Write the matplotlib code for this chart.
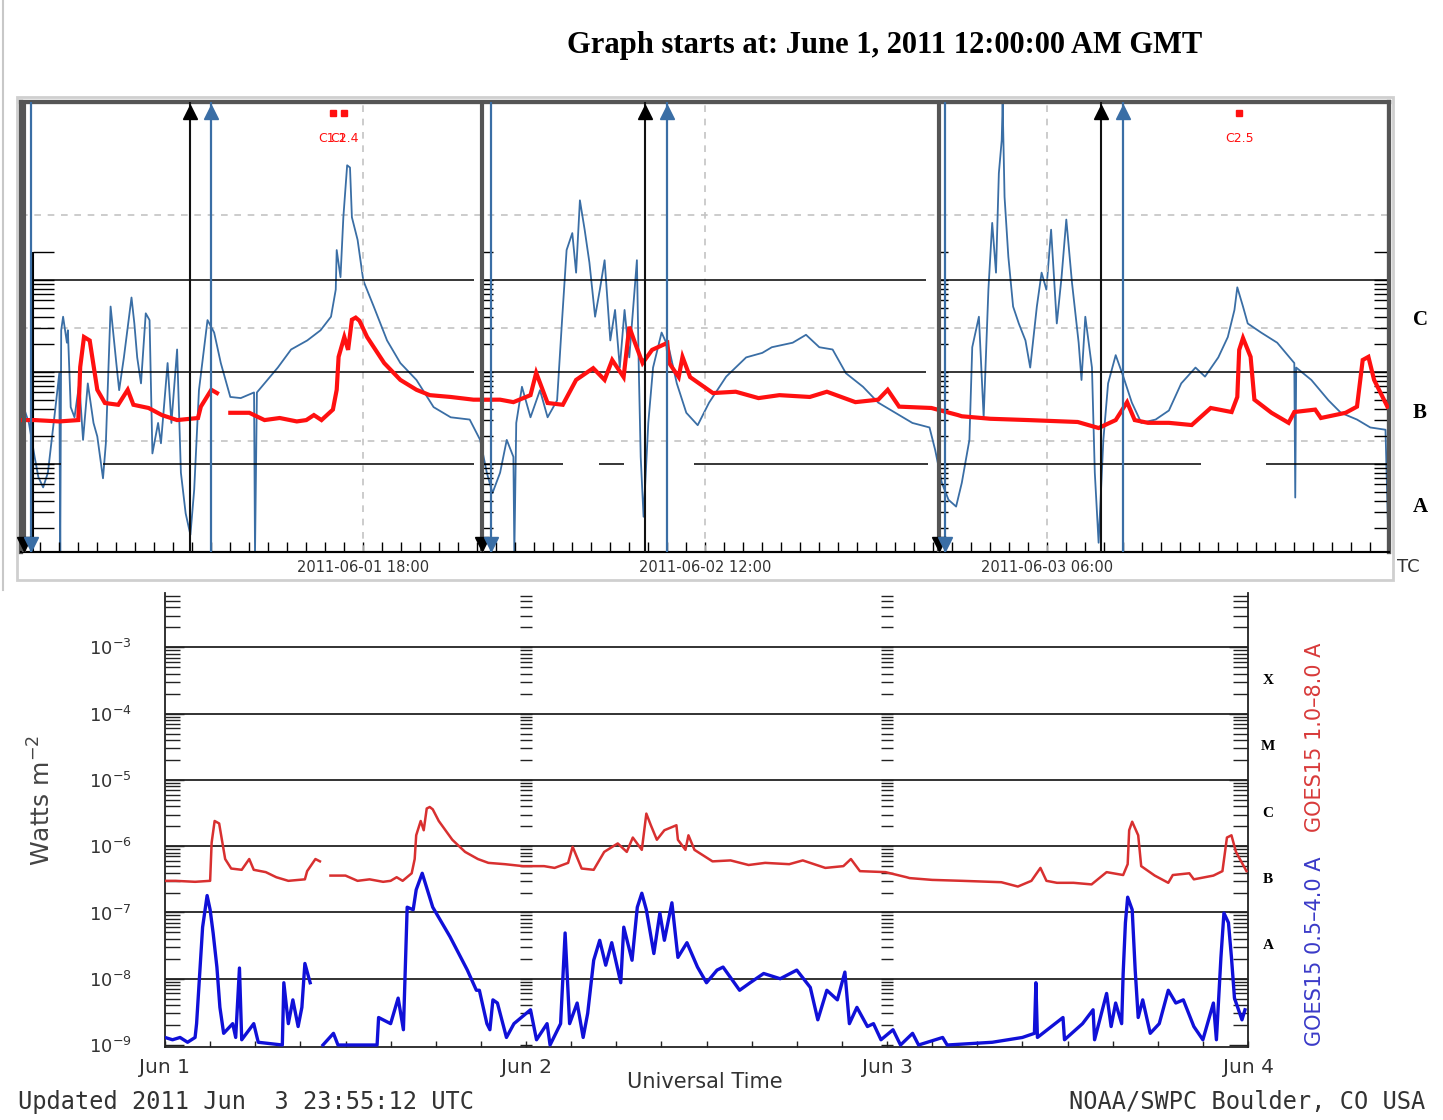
import numpy as np
import matplotlib
matplotlib.use("Agg")
import matplotlib.pyplot as plt
from matplotlib.lines import Line2D
from matplotlib.patches import Rectangle
from matplotlib.ticker import FixedLocator, NullLocator, NullFormatter, LogFormatterMathtext

# ---------------- data (hours after 2011-06-01 00:00 UT) ----------------
# GOES15 1.0-8.0 A (W m-2); nan = data gap
red_t = [0.0, 0.7, 2.0, 3.0, 3.1, 3.3, 3.6, 4.0, 4.4, 5.1, 5.6, 5.9, 6.7, 7.4, 8.2, 9.3, 9.45,
         10.0, 10.3, 10.35, 10.9, 11.0, 12.0, 12.8, 13.6, 14.5, 15.0, 15.4, 15.8, 16.4, 16.6,
         16.7, 17.0, 17.2, 17.4, 17.6, 17.8, 18.2, 19.1, 19.95, 20.8, 21.5, 22.6, 23.8, 25.2,
         25.9, 26.8, 27.1, 27.7, 28.5, 29.2, 30.1, 30.7, 31.1, 31.7, 32.0, 32.3, 32.7, 33.2,
         34.0, 34.1, 34.6, 34.8, 35.2, 36.4, 37.6, 38.8, 39.9, 41.5, 42.4, 43.9, 45.1, 45.6,
         46.2, 47.9, 49.3, 49.5, 51.0, 53.0, 55.6, 56.7, 57.6, 58.2, 58.6, 59.3, 60.4, 61.6,
         62.6, 63.7, 64.0, 64.1, 64.3, 64.7, 64.9, 65.8, 66.7, 67.0, 68.1, 68.4, 69.7, 70.3,
         70.6, 70.9, 71.2, 71.9]
red_flux = [3.0e-7, 3.0e-7, 2.9e-7, 3.0e-7, 1.13e-6, 2.4e-6, 2.2e-6, 6.4e-7, 4.6e-7, 4.4e-7,
            6.4e-7, 4.4e-7, 4.06e-7, 3.4e-7, 3.0e-7, 3.16e-7, 4.2e-7, 6.4e-7, 5.9e-7, np.nan,
            np.nan, 3.6e-7, 3.6e-7, 3.0e-7, 3.16e-7, 2.9e-7, 3.0e-7, 3.4e-7, 3.0e-7, 3.9e-7,
            6.4e-7, 1.46e-6, 2.4e-6, 1.74e-6, 3.7e-6, 3.9e-6, 3.6e-6, 2.4e-6, 1.25e-6, 8.2e-7,
            6.4e-7, 5.6e-7, 5.35e-7, 5.0e-7, 5.0e-7, 4.7e-7, 5.6e-7, 9.8e-7, 4.6e-7, 4.4e-7,
            8.2e-7, 1.1e-6, 8.2e-7, 1.35e-6, 8.8e-7, 3.1e-6, 2.07e-6, 1.25e-6, 1.74e-6, 2.07e-6,
            1.25e-6, 8.8e-7, 1.46e-6, 8.8e-7, 5.9e-7, 6.1e-7, 5.2e-7, 5.6e-7, 5.35e-7, 6.1e-7,
            4.7e-7, 5.0e-7, 6.4e-7, 4.2e-7, 4.06e-7, 3.4e-7, 3.3e-7, 3.1e-7, 3.0e-7, 2.86e-7,
            2.46e-7, 3.0e-7, 4.7e-7, 3.0e-7, 2.8e-7, 2.8e-7, 2.65e-7, 4.06e-7, 3.67e-7, 5.35e-7,
            1.74e-6, 2.34e-6, 1.46e-6, 5.0e-7, 3.6e-7, 2.8e-7, 3.67e-7, 3.9e-7, 3.16e-7, 3.6e-7,
            4.2e-7, 1.35e-6, 1.46e-6, 8.2e-7, 4.2e-7]

# GOES15 0.5-4.0 A (W m-2)
blue_t = [0.0, 0.5, 1.0, 1.5, 2.0, 2.1, 2.5, 2.8, 3.0, 3.2, 3.45, 3.65, 3.9, 4.5, 4.7, 4.95, 5.1,
          5.9, 6.2, 7.8, 7.9, 8.2, 8.5, 8.85, 9.1, 9.3, 9.65, 9.8, 10.4, 10.5, 11.2, 11.5, 14.1,
          14.2, 15.0, 15.5, 15.85, 16.1, 16.5, 16.7, 17.1, 17.8, 18.95, 20.1, 20.7, 20.9, 21.4,
          21.6, 21.8, 22.1, 22.7, 23.2, 24.3, 24.7, 25.4, 25.6, 26.3, 26.6, 26.9, 27.4, 27.8,
          28.1, 28.5, 28.9, 29.3, 29.7, 30.3, 30.5, 31.05, 31.4, 31.7, 32.0, 32.5, 32.9, 33.2,
          33.7, 34.1, 34.7, 35.4, 36.0, 36.7, 37.1, 38.2, 38.9, 39.8, 40.9, 42.0, 42.9, 43.4,
          44.0, 44.7, 45.2, 45.5, 46.0, 46.7, 47.1, 47.6, 48.4, 48.9, 49.7, 50.1, 51.7, 52.0,
          55.0, 57.0, 57.8, 57.9, 58.0, 59.7, 59.8, 61.0, 61.7, 61.8, 62.6, 62.9, 63.2, 63.6,
          63.7, 63.85, 64.0, 64.3, 64.5, 64.7, 65.0, 65.5, 66.1, 66.7, 67.2, 67.7, 68.4, 69.0,
          69.7, 69.9, 70.2, 70.4, 70.7, 70.9, 71.1, 71.6, 71.8]
blue_flux = [1.3e-9, 1.2e-9, 1.3e-9, 1.1e-9, 1.3e-9, 2.1e-9, 6e-8, 1.8e-7, 1.1e-7, 4.9e-8,
             1.5e-8, 3.7e-9, 1.5e-9, 2.1e-9, 1.3e-9, 1.45e-8, 1.2e-9, 2.1e-9, 1.1e-9, 1.0e-9,
             8.7e-9, 2.1e-9, 4.8e-9, 1.9e-9, 3.7e-9, 1.7e-8, 8.7e-9, np.nan, np.nan, 1.0e-9,
             1.5e-9, 1.0e-9, 1.0e-9, 2.6e-9, 2.1e-9, 5.1e-9, 1.7e-9, 1.2e-7, 1.1e-7, 2.2e-7,
             3.9e-7, 1.2e-7, 4.3e-8, 1.35e-8, 6.7e-9, 6.7e-9, 2.1e-9, 1.7e-9, 4.8e-9, 4.3e-9,
             1.3e-9, 2.1e-9, 3.4e-9, 1.2e-9, 2.1e-9, 1.0e-9, 2.1e-9, 4.9e-8, 2.1e-9, 4.3e-9,
             1.3e-9, 3.0e-9, 1.9e-8, 3.8e-8, 1.6e-8, 3.5e-8, 8.7e-9, 6e-8, 1.9e-8, 1.2e-7,
             1.95e-7, 1.1e-7, 2.4e-8, 9.8e-8, 3.8e-8, 1.4e-7, 2.1e-8, 3.5e-8, 1.5e-8, 8.7e-9,
             1.35e-8, 1.5e-8, 6.7e-9, 8.7e-9, 1.2e-8, 1.0e-8, 1.35e-8, 7.4e-9, 2.4e-9, 6.7e-9,
             4.8e-9, 1.26e-8, 2.1e-9, 3.7e-9, 1.9e-9, 2.1e-9, 1.2e-9, 1.7e-9, 1.0e-9, 1.5e-9,
             1.0e-9, 1.3e-9, 1.0e-9, 1.1e-9, 1.3e-9, 1.5e-9, 8.7e-9, 1.3e-9, 2.6e-9, 1.2e-9,
             2.1e-9, 3.4e-9, 1.2e-9, 6e-9, 1.9e-9, 4.3e-9, 2.1e-9, 1.2e-8, 7e-8, 1.7e-7, 1.1e-7,
             1.35e-8, 2.6e-9, 4.8e-9, 1.5e-9, 2.1e-9, 6.7e-9, 4.3e-9, 4.8e-9, 1.9e-9, 1.2e-9,
             4.3e-9, 1.2e-9, 2.1e-8, 9.8e-8, 7e-8, 2.1e-8, 5.1e-9, 2.4e-9, 3.4e-9]

# steel-blue trace of the upper plot (relative units, dashed grid = 1, 2, 3)
sb_t = [0.2, 0.4, 0.7, 0.9, 1.15, 1.4, 1.6, 1.8, 2.0, 2.05, 2.1, 2.2, 2.4, 2.45, 2.6, 2.8, 3.05,
        3.25, 3.5, 3.8, 4.0, 4.3, 4.45, 4.7, 5.0, 5.15, 5.4, 5.8, 5.95, 6.1, 6.3, 6.55, 6.75,
        6.9, 7.2, 7.35, 7.7, 7.9, 8.2, 8.4, 8.65, 8.9, 9.1, 9.35, 9.8, 10.15, 10.5, 11.0, 11.55,
        12.1, 12.25, 12.3, 12.4, 12.95, 13.5, 14.2, 15.05, 15.75, 16.3, 16.55, 16.6, 16.8,
        16.95, 17.15, 17.3, 17.4, 17.7, 18.0, 18.55, 19.25, 19.95, 20.8, 21.7, 22.6, 23.6,
        24.15, 24.5, 24.8, 25.2, 25.55, 25.9, 25.95, 26.05, 26.35, 26.8, 27.3, 27.7, 28.2,
        28.45, 28.7, 29.0, 29.2, 29.4, 29.65, 29.9, 30.2, 30.45, 30.7, 31.0, 31.25, 31.5,
        31.75, 32.0, 32.4, 32.5, 32.6, 32.75, 33.0, 33.25, 33.7, 34.1, 34.5, 35.0, 35.6, 36.2,
        37.1, 38.15, 39.0, 39.5, 40.6, 41.3, 42.0, 42.7, 43.4, 44.3, 45.1, 46.0, 46.9, 47.8,
        48.1, 48.45, 48.8, 49.2, 49.5, 49.9, 50.05, 50.4, 50.65, 50.9, 51.1, 51.3, 51.45, 51.6,
        51.65, 51.75, 51.95, 52.2, 52.5, 52.85, 53.1, 53.45, 53.7, 53.95, 54.2, 54.5, 54.75,
        55.0, 55.3, 55.65, 55.8, 56.0, 56.35, 56.5, 56.7, 56.95, 57.2, 57.6, 58.0, 58.45,
        58.95, 59.7, 60.4, 61.05, 61.8, 62.3, 63.0, 63.5, 63.85, 64.0, 64.3, 64.55, 65.25,
        66.1, 67.0, 67.05, 67.1, 67.9, 68.8, 69.45, 70.3, 71.0, 71.8, 71.95]
sb_val = [1.26, 1.16, 0.86, 0.68, 0.59, 0.72, 1.01, 1.30, 1.60, 0.0, 1.98, 2.10, 1.87, 1.98,
          1.30, 1.21, 1.51, 1.01, 1.51, 1.16, 1.04, 0.67, 0.98, 2.19, 1.69, 1.45, 1.74, 2.27,
          2.04, 1.74, 1.51, 2.13, 2.07, 0.89, 1.16, 0.98, 1.69, 1.16, 1.81, 0.72, 0.36, 0.17,
          0.57, 1.45, 2.07, 1.96, 1.69, 1.39, 1.38, 1.42, 1.43, 0.0, 1.43, 1.54, 1.65, 1.81,
          1.89, 1.98, 2.10, 2.34, 2.69, 2.45, 2.98, 3.44, 3.42, 2.98, 2.78, 2.42, 2.19, 1.89,
          1.69, 1.54, 1.30, 1.21, 1.19, 1.01, 0.72, 0.54, 0.72, 1.01, 0.86, 0.0, 1.16, 1.48,
          1.21, 1.45, 1.21, 1.36, 2.04, 2.69, 2.84, 2.49, 3.13, 2.87, 2.58, 2.10, 2.34, 2.60,
          1.89, 2.16, 1.65, 2.16, 1.74, 2.60, 1.63, 0.86, 0.33, 1.16, 1.65, 1.96, 1.81, 1.51,
          1.25, 1.14, 1.34, 1.57, 1.74, 1.78, 1.83, 1.87, 1.94, 1.83, 1.81, 1.60, 1.48, 1.34,
          1.25, 1.16, 1.12, 0.92, 0.63, 0.48, 0.42, 0.63, 1.01, 1.83, 2.10, 1.21, 2.34, 2.93,
          2.49, 3.37, 3.66, 3.99, 3.16, 2.63, 2.19, 2.04, 1.89, 1.65, 2.19, 2.49, 2.34, 2.87,
          2.04, 2.45, 2.96, 2.40, 1.87, 1.54, 2.10, 1.65, 0.72, 0.10, 1.01, 1.51, 1.76, 1.57,
          1.34, 1.16, 1.19, 1.27, 1.51, 1.65, 1.57, 1.74, 1.92, 2.16, 2.36, 2.19, 2.04, 1.96,
          1.87, 1.69, 0.50, 1.65, 1.54, 1.36, 1.25, 1.19, 1.12, 1.10, 0.12]

# event markers on the upper plot (hours)
frame_t = [0.14, 24.25, 48.3]
blue_down_t = [0.51, 24.7, 48.6]
black_up_t = [8.87, 32.8, 56.8]
blue_up_t = [9.98, 34.0, 58.0]
flare_t = [16.4, 17.0, 64.1]
flare_lbl = ["C1.1", "C2.4", "C2.5"]
top_lbl_t = [18, 36, 54]
top_lbl = ["2011-06-01 18:00", "2011-06-02 12:00", "2011-06-03 06:00"]
day_lbl = ["Jun 1", "Jun 2", "Jun 3", "Jun 4"]
cls_lbl = ["X", "M", "C", "B", "A"]

W, H = 1443, 1120
RED = "#ff1010"
SB = "#3a6ea5"


def box(x0, y0, x1, y1):
    return [x0 / W, 1 - y1 / H, (x1 - x0) / W, (y1 - y0) / H]


plt.rcParams["font.family"] = ["DejaVu Sans"]
fig = plt.figure(figsize=(W / 100, H / 100), dpi=100)
fig.patch.set_facecolor("white")

fig.text(885 / W, 1 - 45 / H, "Graph starts at: June 1, 2011 12:00:00 AM GMT",
         family="Liberation Serif", weight="bold", fontsize=22, ha="center", va="center")

# outer grey frame of the upper picture
fig.add_artist(Rectangle((17 / W, 1 - 580 / H), 1376 / W, 483 / H, transform=fig.transFigure,
                         fill=False, ec="#cfcfcf", lw=2))
fig.add_artist(Line2D([3 / W, 3 / W], [1 - 590 / H, 1.0], transform=fig.transFigure,
                      color="#c8c8c8", lw=1.5))

# ---------------- upper plot ----------------
ax = fig.add_axes(box(21.3, 102, 1389.3, 552))
axb = ax.twinx()
ax.set_zorder(axb.get_zorder() + 1)
ax.patch.set_visible(False)

ax.set_yscale("log")
ax.set_ylim(10 ** -7.957, 10 ** -3.065)
ax.set_xlim(0, 72)
axb.set_ylim(0.018, 4.0)
axb.set_yticks([])
ax.yaxis.set_major_locator(NullLocator())
ax.yaxis.set_minor_locator(NullLocator())

for a in (ax, axb):
    for s in ("top", "left", "right"):
        a.spines[s].set_color("#555555")
        a.spines[s].set_linewidth(3)
    a.spines["bottom"].set_color("black")
    a.spines["bottom"].set_linewidth(1.5)

# dashed grid
for v in (1, 2, 3):
    axb.axhline(v, color="#c4c4c4", lw=1.2, ls=(0, (4, 4)))
for t in top_lbl_t:
    ax.axvline(t, color="#c4c4c4", lw=1.2, ls=(0, (4, 4)))

axb.plot(sb_t, sb_val, color=SB, lw=1.3)

# class lines
line_segs = {1e-5: [(0.62, 23.8), (24.2, 47.6), (48.2, 72)],
             1e-6: [(0.62, 23.8), (24.2, 47.6), (48.2, 72)],
             1e-7: [(0.62, 2.1), (4.3, 23.8), (24.2, 28.5), (30.4, 31.7), (35.4, 47.7),
                    (48.2, 62.1), (65.5, 72)]}
for lev, segs in line_segs.items():
    for a0, a1 in segs:
        ax.hlines(lev, a0, a1, color="black", lw=1.1)

# log tick columns
tick_vals = [m * 10.0 ** d for d in (-8, -7, -6) for m in range(1, 10)] + [1e-5, 2e-5]
tick_vals = [v for v in tick_vals if v > 10 ** -7.95]
for a0, a1, sp in [(0.62, 1.72, 0.62), (24.2, 24.8, None), (48.2, 48.75, None), (71.2, 72, 71.97)]:
    ax.hlines(tick_vals, a0, a1, color="black", lw=1)
    if sp is not None:
        ax.vlines(sp, 10 ** -7.957, 2e-5, color="black", lw=1.5)

ax.plot(red_t, red_flux, color=RED, lw=3, solid_joinstyle="miter", zorder=4)

xt = ax.get_xaxis_transform()
for t in frame_t:
    ax.axvline(t, color="#555555", lw=3, zorder=5)
    ax.plot(t, 0.017, marker="v", color="black", ms=10, transform=xt, clip_on=False, zorder=6)
for t in blue_down_t:
    ax.axvline(t, color=SB, lw=1.6, zorder=5)
    ax.plot(t, 0.017, marker="v", color=SB, ms=10, transform=xt, clip_on=False, zorder=6)
for t in black_up_t:
    ax.axvline(t, color="#111111", lw=1.5, zorder=5)
    ax.plot(t, 0.978, marker="^", color="black", ms=10, transform=xt, clip_on=False, zorder=6)
for t in blue_up_t:
    ax.axvline(t, color=SB, lw=1.6, zorder=5)
    ax.plot(t, 0.978, marker="^", color=SB, ms=10, transform=xt, clip_on=False, zorder=6)

for t, lbl in zip(flare_t, flare_lbl):
    ax.plot(t, 0.976, marker="s", color=RED, ms=4, transform=xt, zorder=6)
    ax.text(t, 0.92, lbl, color=RED, fontsize=9, ha="center", va="center", transform=xt)

ax.set_xticks(np.arange(0, 73, 1))
ax.set_xticklabels([top_lbl[top_lbl_t.index(h)] if h in top_lbl_t else "" for h in range(73)])
ax.tick_params(axis="x", direction="in", length=7, width=1, pad=6, labelsize=10.5,
               labelcolor="#333333")

for lbl, y in zip(["C", "B", "A"], [320, 413, 507]):
    fig.text(1420 / W, 1 - y / H, lbl, family="Liberation Serif", weight="bold", fontsize=15,
             ha="center", va="center")
fig.text(1408 / W, 1 - 567 / H, "TC", fontsize=13, color="#333333", ha="center", va="center")

# ---------------- lower plot ----------------
ax2 = fig.add_axes(box(165, 593, 1248, 1047))
ax2.set_yscale("log")
ax2.set_xlim(0, 72)
ax2.set_ylim(10 ** -9.03, 10 ** -2.18)
ax2.spines["top"].set_visible(False)
for s in ("left", "right", "bottom"):
    ax2.spines[s].set_color("#222222")
    ax2.spines[s].set_linewidth(1.3)

for d in range(-8, -2):
    ax2.axhline(10.0 ** d, color="#222222", lw=1.3)

col_vals = [m * 10.0 ** d for d in range(-9, -2) for m in range(1, 10)]
col_vals = [v for v in col_vals if v < 10 ** -2.18]
for t in (24, 48):
    ax2.hlines(col_vals, t - 0.4, t + 0.4, color="#222222", lw=1)

major_y = [10.0 ** d for d in range(-9, -2)]
minor_y = [v for v in col_vals if v not in major_y]
ax2.yaxis.set_major_locator(FixedLocator(major_y))
ax2.yaxis.set_major_formatter(LogFormatterMathtext())
ax2.yaxis.set_minor_locator(FixedLocator(minor_y))
ax2.yaxis.set_minor_formatter(NullFormatter())
ax2.tick_params(axis="y", which="both", direction="in", left=True, right=True, width=1,
                color="#222222")
ax2.tick_params(axis="y", which="major", length=14, pad=24, labelsize=13, labelcolor="#333333")
ax2.tick_params(axis="y", which="minor", length=11)

ax2.set_xticks([0, 24, 48, 72])
ax2.set_xticklabels(day_lbl)
ax2.xaxis.set_minor_locator(FixedLocator(np.arange(0, 73, 3)))
ax2.tick_params(axis="x", which="both", direction="in", length=4, width=1, color="#222222")
ax2.tick_params(axis="x", which="major", pad=8, labelsize=14.5, labelcolor="#333333")

ax2.plot(red_t, red_flux, color="#d83030", lw=1.8, zorder=3)
ax2.plot(blue_t, blue_flux, color="#1010d8", lw=2.4, zorder=3)

for lbl, d in zip(cls_lbl, [-3.5, -4.5, -5.5, -6.5, -7.5]):
    ax2.text(1.0185, 10 ** d, lbl, transform=ax2.get_yaxis_transform(), family="Liberation Serif",
             weight="bold", fontsize=11, ha="center", va="center")

fig.text(1315 / W, 1 - 737 / H, "GOES15 1.0\u20138.0 A", color="#d83a3a", rotation=90,
         fontsize=15, ha="center", va="center")
fig.text(1315 / W, 1 - 951 / H, "GOES15 0.5\u20134.0 A", color="#3a3ac8", rotation=90,
         fontsize=15, ha="center", va="center")
fig.text(42 / W, 1 - 800 / H, "Watts m$^{-2}$", color="#444444", rotation=90,
         fontsize=18, ha="center", va="center")
fig.text(705 / W, 1 - 1082 / H, "Universal Time", color="#333333", fontsize=15,
         ha="center", va="center")
fig.text(18 / W, 1 - 1102 / H, "Updated 2011 Jun  3 23:55:12 UTC", color="#333333",
         family="DejaVu Sans Mono", fontsize=17, ha="left", va="center")
fig.text(1425 / W, 1 - 1102 / H, "NOAA/SWPC Boulder, CO USA", color="#333333",
         family="DejaVu Sans Mono", fontsize=17, ha="right", va="center")

fig.savefig("out.png", dpi=100, facecolor="white")
